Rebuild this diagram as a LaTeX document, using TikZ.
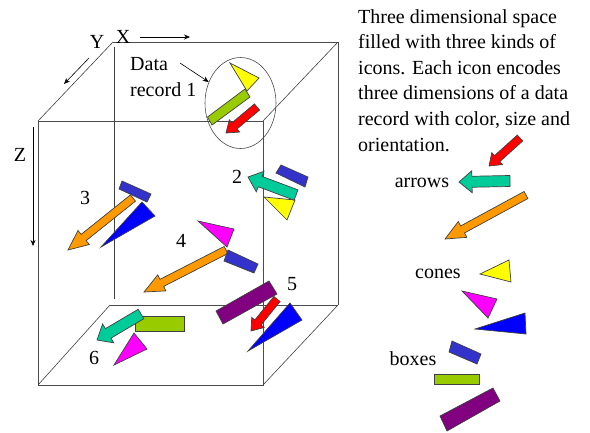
\documentclass[tikz,border=0pt]{standalone}
\usepackage{fontspec}
\setmainfont{Liberation Serif}
\usetikzlibrary{calc,arrows.meta,shapes.geometric}
\definecolor{iconred}{HTML}{FF0000}
\definecolor{iconteal}{HTML}{00CC99}
\definecolor{iconorange}{HTML}{FF9900}
\definecolor{iconyellow}{HTML}{FFFF00}
\definecolor{iconmagenta}{HTML}{FF00FF}
\definecolor{iconblue}{HTML}{0000FF}
\definecolor{iconindigo}{HTML}{3333CC}
\definecolor{icongreen}{HTML}{99CC00}
\definecolor{iconpurple}{HTML}{800080}
\tikzset{
  icon/.style={draw=black!75,line width=0.7pt,line join=miter},
  edge/.style={draw=black!70,line width=0.85pt},
  thinedge/.style={draw=black!75,line width=0.6pt},
  axis/.style={draw=black,line width=0.6pt,-{Stealth[length=6pt,width=5pt]}},
  word/.style={font=\fontsize{20}{20}\selectfont,inner sep=0pt},
}
% tail, tip, half shaft, half head, head length, colour
\newcommand{\blockarrow}[6]{
  \coordinate (tl) at (#1);
  \coordinate (tp) at (#2);
  \coordinate (nk) at ($(tp)!#5pt!(tl)$);
  \draw[icon,fill=#6] ($(tl)!#3pt!90:(tp)$)--($(nk)!#3pt!90:(tp)$)--($(nk)!#4pt!90:(tp)$)
    --(tp)--($(nk)!#4pt!-90:(tp)$)--($(nk)!#3pt!-90:(tp)$)--($(tl)!#3pt!-90:(tp)$)--cycle;
}
\begin{document}
\begin{tikzpicture}[x=1pt,y=-1pt]
\useasboundingbox (0,0) rectangle (590,432);
% box corners
\coordinate (ftl) at (38,121);
\coordinate (ftr) at (263,121);
\coordinate (fbl) at (38,385);
\coordinate (fbr) at (263,385);
\coordinate (btl) at (113,42);
\coordinate (btr) at (338,42);
\coordinate (bbl) at (110,305);
\coordinate (bbr) at (338,305);
\coordinate (bla) at (114.5,47);
\coordinate (blb) at (114.5,299);
% back of the box
\draw[thinedge] (bla)--(blb);
\draw[edge] (bbl)--(bbr);
\draw[edge] (btl)--(btr)--(bbr);
% front of the box
\draw[edge] (ftl)--(ftr)--(fbr)--(fbl)--cycle;
\draw[thinedge] (ftl)--(btl);
\draw[thinedge] (ftr)--(btr);
\draw[thinedge] (fbl)--(bbl);
\draw[thinedge] (fbr)--(bbr);
% axes
\node[word] (xlabel) at (123,37) {X};
\node[word] (ylabel) at (97,42) {Y};
\node[word] (zlabel) at (20,155) {Z};
\coordinate (xa) at (140,37);
\coordinate (xb) at (190,37);
\coordinate (ya) at (89,58);
\coordinate (yb) at (64,84);
\coordinate (za) at (33,127);
\coordinate (zb) at (33,246);
\draw[axis] (xa)--(xb);
\draw[axis] (ya)--(yb);
\draw[axis] (za)--(zb);
% record 1
\node[draw=black!70,line width=0.6pt,ellipse,minimum width=71pt,minimum height=91pt,inner sep=0pt] (circle1) at (240.5,103) {};
\node[word,align=left,anchor=west] (data1) at (130,77) {Data\\[6pt]record 1};
\coordinate (lead1) at (180,63);
\draw[axis] (lead1)--(circle1);
\draw[icon,fill=iconyellow] (230,63)--(259,78)--(247,91)--cycle;
\draw[icon,fill=icongreen] (207.5,117)--(245,89)--(250,97)--(212,125)--cycle;
\blockarrow{257,107}{226,133}{4}{8}{11}{iconred}
% record 2
\node[word] (num2) at (237,177) {2};
\draw[icon,fill=iconindigo] (281,165)--(308,177)--(305,187)--(276,173)--cycle;
\draw[icon,fill=iconyellow] (264,197)--(295,200)--(287,220)--cycle;
\blockarrow{296,195}{248,177}{5.5}{11}{13}{iconteal}
% record 3
\node[word] (num3) at (85,198) {3};
\draw[icon,fill=iconblue] (142,202)--(155,216)--(101,247)--cycle;
\blockarrow{133,198}{68,250}{4}{9}{20}{iconorange}
\draw[icon,fill=iconindigo] (122,181)--(151,194)--(147,202)--(119,189)--cycle;
% record 4
\node[word] (num4) at (181,241) {4};
\draw[icon,fill=iconmagenta] (198,221)--(234,229)--(227,247)--cycle;
\blockarrow{226,250}{144,292}{4}{9}{20}{iconorange}
\draw[icon,fill=iconindigo] (228,250)--(258,264)--(254,273)--(224,261)--cycle;
% record 5
\node[word] (num5) at (292,284) {5};
\draw[icon,fill=iconpurple] (269,281)--(277,294)--(223,324)--(216,311)--cycle;
\draw[icon,fill=iconblue] (290,303)--(302,320)--(248,351)--cycle;
\blockarrow{277,299}{251,331}{4}{8}{11}{iconred}
% record 6
\node[word] (num6) at (94,358) {6};
\draw[icon,fill=icongreen] (135,316)--(184,316)--(184,331)--(135,331)--cycle;
\draw[icon,fill=iconmagenta] (134,333)--(147,349)--(114,365)--cycle;
\blockarrow{141,314}{97,340}{5.5}{11}{13}{iconteal}
% text
\node[inner sep=0pt,font=\fontsize{20}{25.6}\selectfont,align=left,anchor=north west] (caption) at (358,9)
  {Three dimensional space\\filled with three kinds of\\icons. Each icon encodes\\three dimensions of a data\\record with color, size and\\orientation.};
% legend
\node[word] (arrows) at (422,183) {arrows};
\blockarrow{520,138}{489,166}{4}{8}{11}{iconred}
\blockarrow{510,181}{459,182}{5.5}{11}{13}{iconteal}
\blockarrow{526,195}{445,239}{4}{9}{20}{iconorange}
\node[word] (cones) at (438,274) {cones};
\draw[icon,fill=iconyellow] (480,274)--(509,260)--(511,282)--cycle;
\draw[icon,fill=iconmagenta] (462,291)--(497,299)--(488,318)--cycle;
\draw[icon,fill=iconblue] (475,329)--(525,313)--(526,334)--cycle;
\node[word] (boxes) at (413,359) {boxes};
\draw[icon,fill=iconindigo] (452,341)--(481,354)--(477,364)--(449,352)--cycle;
\draw[icon,fill=icongreen] (434,374)--(479,374)--(479,384)--(434,384)--cycle;
\draw[icon,fill=iconpurple] (493,388)--(500,401)--(447,431)--(440,416)--cycle;
\end{tikzpicture}
\end{document}
